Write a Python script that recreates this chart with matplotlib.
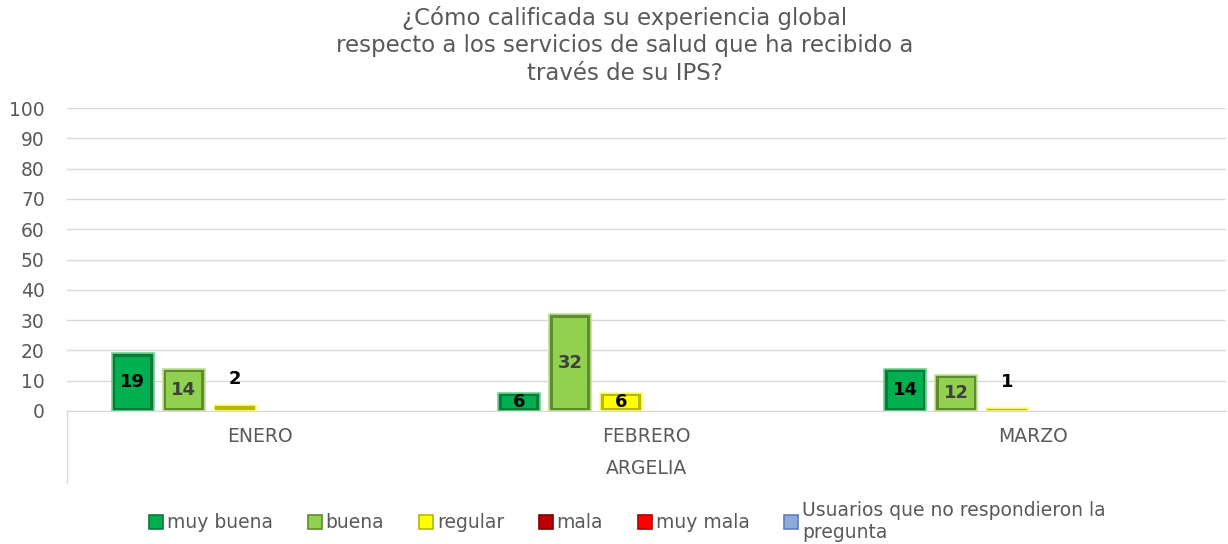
import matplotlib
matplotlib.use("Agg")
import matplotlib.pyplot as plt
from matplotlib.patches import Patch
from matplotlib.lines import Line2D
import numpy as np

plt.rcParams['font.family'] = ['DejaVu Sans']

title = "¿Cómo calificada su experiencia global\nrespecto a los servicios de salud que ha recibido a\ntravés de su IPS?"
months = ["ENERO", "FEBRERO", "MARZO"]
group_label = "ARGELIA"
series = ["muy buena", "buena", "regular", "mala", "muy mala",
          "Usuarios que no respondieron la\npregunta"]
values = {
    "muy buena": [19, 6, 14],
    "buena": [14, 32, 12],
    "regular": [2, 6, 1],
    "mala": [0, 0, 0],
    "muy mala": [0, 0, 0],
    "Usuarios que no respondieron la\npregunta": [0, 0, 0],
}
face = ["#00B050", "#92D050", "#FFFF00", "#C00000", "#FF0000", "#8EA9DB"]
dark = ["#0A7A3A", "#5E8C2E", "#B8B800", "#800000", "#B00000", "#5F7FB8"]
light = ["#6CD68F", "#BDE38F", "#FFFF80", "#E06060", "#FF8080", "#B8CBEB"]
label_colors = ["#000000", "#404040", "#000000", "#000000", "#000000", "#000000"]

W, H = 1228, 544
fig = plt.figure(figsize=(W / 100, H / 100), dpi=100)
x0, x1 = 67, 1226
y100, y0 = 108, 411
ax = fig.add_axes([x0 / W, 1 - y0 / H, (x1 - x0) / W, (y0 - y100) / H])
ax.set_xlim(0, 3)
ax.set_ylim(0, 100)

n = len(series)
step = 0.132
bw = 0.1085
centers = np.arange(len(months)) + 0.5
px_per_unit = (y0 - y100) / 100.0
inset_y = 3.5 / px_per_unit
inset_x = 7 / (x1 - x0) * 3

for i, s in enumerate(series):
    vals = np.array(values[s], dtype=float)
    xs = centers + (i - (n - 1) / 2) * step
    lws = [1.2 if v > 0 else 0 for v in vals]
    ax.bar(xs, vals, width=bw, color=dark[i], edgecolor=light[i], linewidth=lws, zorder=3)
    inner_h = np.clip(vals - 2 * inset_y, 0, None)
    ax.bar(xs, inner_h, bottom=inset_y, width=bw - inset_x, color=face[i],
           edgecolor="none", linewidth=0, zorder=4)
    for x, v in zip(xs, vals):
        if v <= 0:
            continue
        if v >= 5:
            ax.text(x, v / 2, f"{int(v)}", ha="center", va="center", fontsize=13,
                    fontweight="bold", color=label_colors[i], zorder=5)
        else:
            ax.annotate(f"{int(v)}", (x, v), xytext=(0, 12), textcoords="offset points",
                        ha="center", va="bottom", fontsize=13, fontweight="bold",
                        color=label_colors[i], zorder=5)

ax.set_yticks(np.arange(0, 101, 10))
ax.tick_params(axis="y", length=0, labelsize=13.5, labelcolor="#595959", pad=16)
ax.set_xticks([])
ax.grid(axis="y", color="#D9D9D9", linewidth=1, zorder=0)
for sp in ["top", "right", "left"]:
    ax.spines[sp].set_visible(False)
ax.spines["bottom"].set_color("#D9D9D9")

# category axis box
fig.add_artist(Line2D([x0 / W, x0 / W], [1 - y0 / H, 1 - 483 / H], color="#D9D9D9", lw=1))
for c, m in zip(centers, months):
    xp = (x0 + c / 3 * (x1 - x0)) / W
    fig.text(xp, 1 - 436 / H, m, ha="center", va="center", fontsize=13.5, color="#595959")
fig.text((x0 + x1) / 2 / W, 1 - 468 / H, group_label, ha="center", va="center",
         fontsize=13.5, color="#595959")

fig.text(0.509, 1 - 45 / H, title, ha="center", va="center", fontsize=16.5,
         color="#595959", linespacing=1.25)

handles = [Patch(facecolor=face[i], edgecolor=dark[i], linewidth=1.2) for i in range(n)]
leg = fig.legend(handles, series, loc="center", bbox_to_anchor=(0.511, 1 - 521 / H),
                 ncol=n, frameon=False, fontsize=13.5, handlelength=0.75, handleheight=0.75,
                 handletextpad=0.2, columnspacing=1.85, labelcolor="#595959",
                 labelspacing=0.1)

fig.savefig("out.png", dpi=100, facecolor="white")
